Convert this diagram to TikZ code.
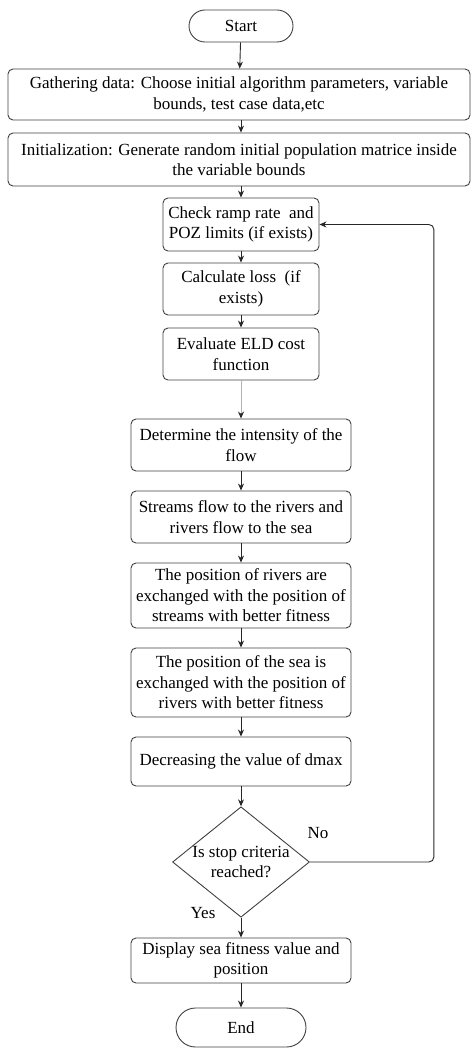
\documentclass[tikz,border=0pt]{standalone}
\usepackage{fontspec}
\setmainfont{Liberation Serif}
\usepackage{tikz}
\usetikzlibrary{calc, shapes.geometric, shapes.misc, arrows.meta}

\begin{document}
\begin{tikzpicture}[x=1pt, y=-1pt, >={Stealth[length=7pt, width=6pt]},
    box/.style={draw=black!75, line width=0.9pt, rounded corners=5pt, align=center,
        inner sep=0pt, font=\fontsize{17}{20.5}\selectfont},
    term/.style={draw=black!75, line width=0.9pt, rounded rectangle, align=center,
        inner sep=0pt, font=\fontsize{17}{20.5}\selectfont},
    cond/.style={draw=black!75, line width=0.9pt, diamond, aspect=1.24, align=center,
        inner sep=0pt, font=\fontsize{17}{20.5}\selectfont},
    flowline/.style={->, line width=0.9pt, black!85}]

    \useasboundingbox (0,0) rectangle (471,1048);

    % =================================================================
    % 1. CAC KHOI CUA LUU DO
    % =================================================================
    \node[term, minimum width=104pt, minimum height=32pt] (start) at (241,26) {Start};
    \node[box, minimum width=462pt, minimum height=51pt] (gather) at (239,94.5)
        {Gathering data: Choose initial algorithm parameters, variable\\ bounds, test case data,etc};
    \node[box, minimum width=462pt, minimum height=53pt] (init) at (239,159.5)
        {Initialization: Generate random initial population matrice inside\\ the variable bounds};
    \node[box, minimum width=156pt, minimum height=53pt] (check) at (241,224.5)
        {Check ramp rate \ and\\ POZ limits (if exists)};
    \node[box, minimum width=156pt, minimum height=52pt] (loss) at (241,289)
        {Calculate loss \ (if\\ exists)};
    \node[box, minimum width=156pt, minimum height=52pt] (cost) at (241,354)
        {Evaluate ELD cost\\ function};
    \node[box, minimum width=220pt, minimum height=52pt] (flow) at (241,445)
        {Determine the intensity of the\\ flow};
    \node[box, minimum width=220pt, minimum height=52pt] (streams) at (241,517)
        {Streams flow to the rivers and\\ rivers flow to the sea};
    \node[box, minimum width=220pt, minimum height=65pt] (rivers) at (241,595.5)
        {The position of rivers are\\ exchanged with the position of\\ streams with better fitness};
    \node[box, minimum width=220pt, minimum height=69pt] (sea) at (241,682.5)
        {The position of the sea is\\ exchanged with the position of\\ rivers with better fitness};
    \node[box, minimum width=220pt, minimum height=49pt] (dmax) at (241,761.5)
        {Decreasing the value of dmax};
    \node[cond, minimum width=136pt, minimum height=110pt] (stop) at (241,862)
        {Is stop criteria\\ reached?};
    \node[box, minimum width=220pt, minimum height=45pt] (show) at (241,960.5)
        {Display sea fitness value and\\ position};
    \node[term, minimum width=130pt, minimum height=39pt] (end) at (241,1027.5) {End};

    % =================================================================
    % 2. CAC MUI TEN
    % =================================================================
    \draw[flowline] (start) -- (gather);
    \draw[flowline] ($(gather.south)+(2,0)$) -- ($(init.north)+(2,0)$);
    \draw[flowline] ($(init.south)+(2,0)$) -- (check);
    \draw[flowline] (check) -- (loss);
    \draw[flowline] (loss) -- (cost);
    \draw[flowline, black!30, -{Stealth[length=7pt, width=6pt, black!85]}] (cost) -- (flow);
    \draw[flowline] (flow) -- (streams);
    \draw[flowline] (streams) -- (rivers);
    \draw[flowline] (rivers) -- (sea);
    \draw[flowline] (sea) -- (dmax);
    \draw[flowline] (dmax) -- (stop);
    \draw[flowline] (stop) -- (show);
    \draw[flowline] (show) -- (end);

    % Vong lap quay lai
    \draw[flowline, rounded corners=5pt] (stop.east) -- ++(124,0) |- (check.east);

    % =================================================================
    % 3. NHAN
    % =================================================================
    \node[font=\fontsize{17}{20.5}\selectfont] (no) at (318,833) {No};
    \node[font=\fontsize{17}{20.5}\selectfont] (yes) at (203,913) {Yes};

\end{tikzpicture}
\end{document}
